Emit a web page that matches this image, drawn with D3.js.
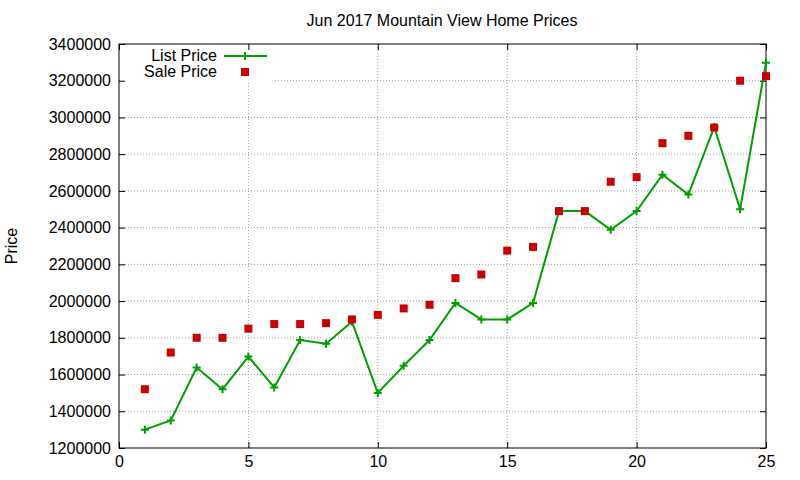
<!DOCTYPE html>
<html><head><meta charset="utf-8">
<script src="https://cdn.jsdelivr.net/npm/d3@7"></script>
<style>body{margin:0;background:#fff}text{font-family:"Liberation Sans",Arial,sans-serif;font-size:16px;fill:#000}</style>
</head><body><svg id="c" width="800" height="480"></svg>
<script>
const days = d3.range(1, 26);
const listPrice = [1300000,1350000,1638000,1520000,1698000,1530000,1788000,1768000,1888000,1500000,1648000,1788000,1990000,1900000,1900000,1990000,2490000,2490000,2388000,2490000,2688000,2580000,2948000,2500000,3298000];
const salePrice = [1520000,1720000,1800000,1800000,1850000,1875000,1875000,1880000,1900000,1925000,1960000,1980000,2125000,2145000,2275000,2295000,2490000,2490000,2650000,2675000,2860000,2900000,2945000,3200000,3225000];
const xTicks = [0,5,10,15,20,25];
const yTicks = d3.range(1200000, 3400001, 200000);

const svg = d3.select("#c");
const L=119,R=766,T=44,B=448;
const x = d3.scaleLinear().domain([0,25]).range([L,R]);
const y = d3.scaleLinear().domain([1200000,3400000]).range([B,T]);

const g = svg.append("g");
g.selectAll(".gx").data(xTicks.slice(1,-1)).join("line").attr("x1",x).attr("x2",x).attr("y1",T).attr("y2",B).attr("stroke","#a0a0a0").attr("stroke-dasharray","1,2");
g.selectAll(".gy").data(yTicks.slice(1,-1)).join("line").attr("y1",y).attr("y2",y).attr("x1",L).attr("x2",R).attr("stroke","#a0a0a0").attr("stroke-dasharray","1,2");
g.append("rect").attr("x",120).attr("y",45).attr("width",155).attr("height",37).attr("fill","#fff");

const xa = d3.axisBottom(x).tickValues(xTicks).tickSize(-6).tickPadding(8).tickFormat(d3.format("d"));
svg.append("g").attr("transform",`translate(0,${B})`).call(xa).call(s=>{s.select(".domain").remove();s.selectAll("text").style("font-size","16px");});
svg.append("g").attr("transform",`translate(0,${T})`).call(d3.axisTop(x).tickValues(xTicks).tickSize(-6).tickFormat("")).call(s=>s.select(".domain").remove());
const ya = d3.axisLeft(y).tickValues(yTicks).tickSize(-6).tickPadding(8).tickFormat(d3.format("d"));
svg.append("g").attr("transform",`translate(${L},0)`).call(ya).call(s=>{s.select(".domain").remove();s.selectAll("text").style("font-size","16px");});
svg.append("g").attr("transform",`translate(${R},0)`).call(d3.axisRight(y).tickValues(yTicks).tickSize(-6).tickFormat("")).call(s=>s.select(".domain").remove());
svg.append("rect").attr("x",L).attr("y",T).attr("width",R-L).attr("height",B-T).attr("fill","none").attr("stroke","#000");

svg.append("text").attr("x",442).attr("y",26).attr("text-anchor","middle").text("Jun 2017 Mountain View Home Prices");
svg.append("text").attr("transform","translate(17,246) rotate(-90)").attr("text-anchor","middle").text("Price");

const green="#00a000", red="#cc0000";
const line = d3.line().x((d,i)=>x(days[i])).y(d=>y(d));
svg.append("path").datum(listPrice).attr("d",line).attr("fill","none").attr("stroke",green).attr("stroke-width",2);
const plus = (sel,cx,cy)=>sel.append("path").attr("d",`M${cx-4},${cy}H${cx+4}M${cx},${cy-4}V${cy+4}`).attr("stroke",green).attr("stroke-width",2);
listPrice.forEach((v,i)=>plus(svg,x(days[i]),y(v)));
svg.selectAll(".sp").data(salePrice).join("rect").attr("x",(d,i)=>x(days[i])-4).attr("y",d=>y(d)-4).attr("width",8).attr("height",8).attr("fill",red);

svg.append("text").attr("x",217).attr("y",61).attr("text-anchor","end").text("List Price");
svg.append("line").attr("x1",224).attr("x2",267).attr("y1",56).attr("y2",56).attr("stroke",green).attr("stroke-width",2);
plus(svg,245,56);
svg.append("text").attr("x",217).attr("y",77).attr("text-anchor","end").text("Sale Price");
svg.append("rect").attr("x",241).attr("y",68).attr("width",8).attr("height",8).attr("fill",red);
</script></body></html>
